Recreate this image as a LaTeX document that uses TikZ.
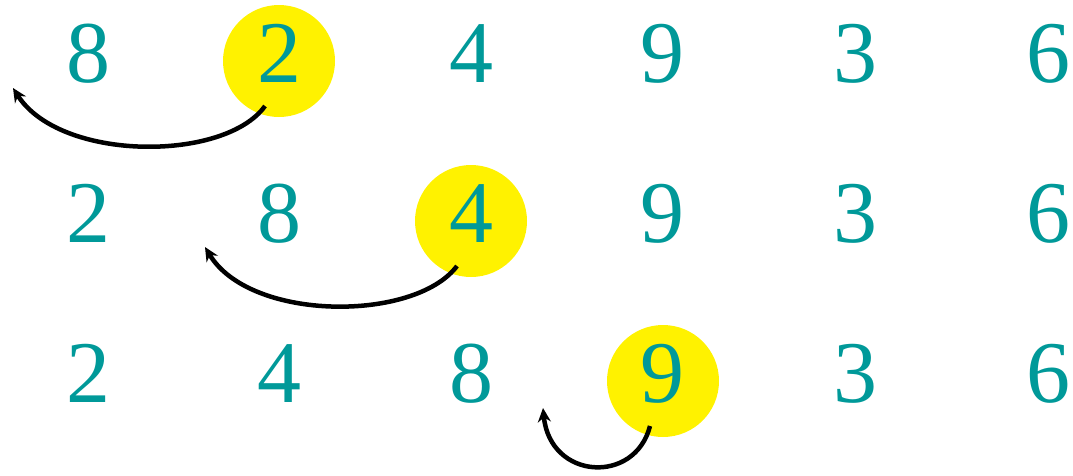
\documentclass[tikz,border=0pt]{standalone}
\usepackage{fontspec}
\setmainfont{Liberation Serif}
\usetikzlibrary{arrows.meta}
\definecolor{digitteal}{RGB}{0,153,153}
\tikzset{
  digit/.style={text=digitteal,inner sep=0pt,anchor=base,font=\fontsize{88}{88}\selectfont},
  hilite/.style={circle,fill=yellow,draw=none,minimum size=112pt,inner sep=0pt},
  movearrow/.style={line width=4.5pt,-{Stealth[length=14pt,width=13pt]}}
}
\begin{document}
\begin{tikzpicture}[x=1pt,y=-1pt]
\useasboundingbox (0,0) rectangle (1073,475);
% highlight circles
\node[hilite] (c1) at (279,61) {};
\node[hilite] (c2) at (471,221) {};
\node[hilite] (c3) at (663,381) {};
% row 1
\node[digit] (r1a) at (88,82) {8};
\node[digit] (r1b) at (279,82) {2};
\node[digit] (r1c) at (471,82) {4};
\node[digit] (r1d) at (662,82) {9};
\node[digit] (r1e) at (855,82) {3};
\node[digit] (r1f) at (1048,82) {6};
% row 2
\node[digit] (r2a) at (88,242) {2};
\node[digit] (r2b) at (279,242) {8};
\node[digit] (r2c) at (471,242) {4};
\node[digit] (r2d) at (662,242) {9};
\node[digit] (r2e) at (855,242) {3};
\node[digit] (r2f) at (1048,242) {6};
% row 3
\node[digit] (r3a) at (88,402) {2};
\node[digit] (r3b) at (279,402) {4};
\node[digit] (r3c) at (471,402) {8};
\node[digit] (r3d) at (662,402) {9};
\node[digit] (r3e) at (855,402) {3};
\node[digit] (r3f) at (1048,402) {6};
% arrow ends
\coordinate (t1) at (13,88);
\coordinate (t2) at (205,247);
\coordinate (t3) at (543,408);
% arrows
\draw[movearrow] ([shift={(-14,45)}]c1.center) .. controls (225,162) and (60,162) .. (t1);
\draw[movearrow] ([shift={(-14,45)}]c2.center) .. controls (415,322) and (250,322) .. (t2);
\draw[movearrow] ([shift={(-13,45)}]c3.center) .. controls (635,485) and (550,480) .. (t3);
\end{tikzpicture}
\end{document}
